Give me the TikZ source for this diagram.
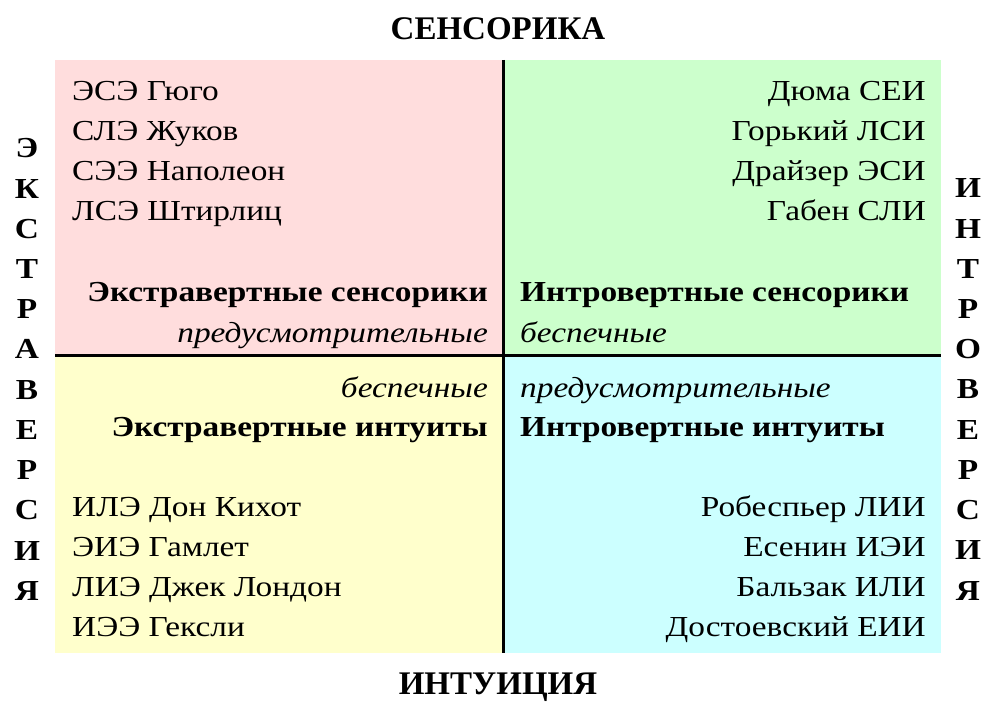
\documentclass[tikz,border=0pt]{standalone}
\usepackage{fontspec}
\setmainfont{Liberation Serif}
\newfontfamily\libs{Liberation Serif}[FakeStretch=1.15]
\newfontfamily\libt{Liberation Serif}
\definecolor{qpink}{HTML}{FFDDDD}
\definecolor{qgreen}{HTML}{CCFFCC}
\definecolor{qyellow}{HTML}{FFFFCC}
\definecolor{qcyan}{HTML}{CCFFFF}
\begin{document}
\begin{tikzpicture}[x=1pt,y=-1pt,
  txt/.style={inner sep=0pt,font=\fontsize{29}{29}\selectfont\libs},
  hd/.style={inner sep=0pt,font=\fontsize{29}{29}\selectfont\libs\bfseries},
  it/.style={inner sep=0pt,font=\fontsize{29}{29}\selectfont\libs\itshape},
  ttl/.style={inner sep=0pt,font=\fontsize{33}{33}\selectfont\libt\bfseries},
  axis/.style={line width=3pt,black}]
\useasboundingbox (0,0) rectangle (997,714);
\fill[white] (0,0) rectangle (997,714);
\fill[qpink] (55,60) rectangle (503,356);
\fill[qgreen] (503,60) rectangle (941,356);
\fill[qyellow] (55,356) rectangle (503,653);
\fill[qcyan] (503,356) rectangle (941,653);
\coordinate (vt) at (503,60);
\coordinate (vb) at (503,653);
\coordinate (hl) at (55,356);
\coordinate (hr) at (941,356);
\draw[axis] (vt) -- (vb);
\draw[axis] (hl) -- (hr);
% titles
\node[ttl,anchor=base] (top) at (498,40) {СЕНСОРИКА};
\node[ttl,anchor=base] (bot) at (498,694) {ИНТУИЦИЯ};
% side letters
\foreach \l [count=\i from 0] in {Э,К,С,Т,Р,А,В,Е,Р,С,И,Я}
  \node[hd,anchor=base] (L\i) at (27,{158+40.2*\i}) {\l};
\foreach \l [count=\i from 0] in {И,Н,Т,Р,О,В,Е,Р,С,И,Я}
  \node[hd,anchor=base] (R\i) at (968,{198+40.2*\i}) {\l};
% top-left
\node[txt,anchor=base west] (tl1) at (72,100.5) {ЭСЭ Гюго};
\node[txt,anchor=base west] (tl2) at (72,140.5) {СЛЭ Жуков};
\node[txt,anchor=base west] (tl3) at (72,180.5) {СЭЭ Наполеон};
\node[txt,anchor=base west] (tl4) at (72,220.5) {ЛСЭ Штирлиц};
\node[hd,anchor=base east] (tlh) at (488,301.5) {Экстравертные сенсорики};
\node[it,anchor=base east] (tli) at (488,342) {предусмотрительные};
% top-right
\node[txt,anchor=base east] (tr1) at (926,100.5) {Дюма СЕИ};
\node[txt,anchor=base east] (tr2) at (926,140.5) {Горький ЛСИ};
\node[txt,anchor=base east] (tr3) at (926,180.5) {Драйзер ЭСИ};
\node[txt,anchor=base east] (tr4) at (926,220.5) {Габен СЛИ};
\node[hd,anchor=base west] (trh) at (520,301.5) {Интровертные сенсорики};
\node[it,anchor=base west] (tri) at (520,342) {беспечные};
% bottom-left
\node[it,anchor=base east] (bli) at (488,397) {беспечные};
\node[hd,anchor=base east] (blh) at (488,436.5) {Экстравертные интуиты};
\node[txt,anchor=base west] (bl1) at (72,516.5) {ИЛЭ Дон Кихот};
\node[txt,anchor=base west] (bl2) at (72,556.5) {ЭИЭ Гамлет};
\node[txt,anchor=base west] (bl3) at (72,596.5) {ЛИЭ Джек Лондон};
\node[txt,anchor=base west] (bl4) at (72,636.5) {ИЭЭ Гексли};
% bottom-right
\node[it,anchor=base west] (bri) at (520,397) {предусмотрительные};
\node[hd,anchor=base west] (brh) at (520,436.5) {Интровертные интуиты};
\node[txt,anchor=base east] (br1) at (926,516.5) {Робеспьер ЛИИ};
\node[txt,anchor=base east] (br2) at (926,556.5) {Есенин ИЭИ};
\node[txt,anchor=base east] (br3) at (926,596.5) {Бальзак ИЛИ};
\node[txt,anchor=base east] (br4) at (926,636.5) {Достоевский ЕИИ};
\end{tikzpicture}
\end{document}
